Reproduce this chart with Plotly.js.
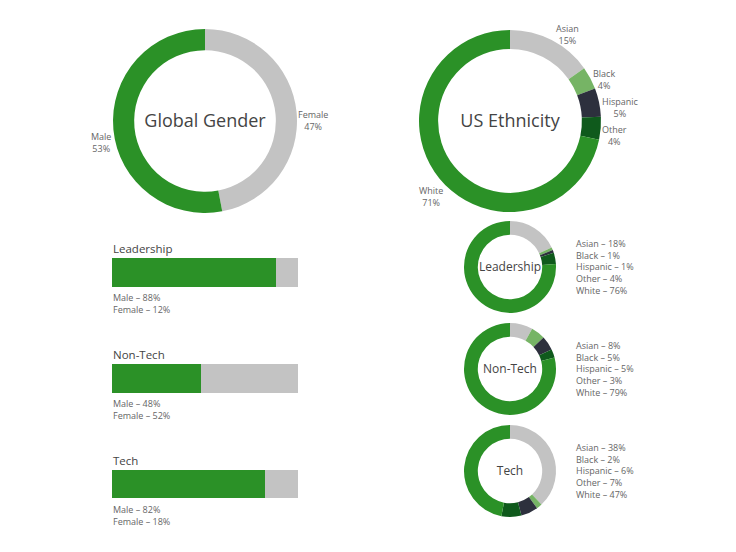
<!DOCTYPE html>
<html><head><meta charset="utf-8">
<script src="https://cdn.plot.ly/plotly-3.0.1.min.js"></script>
<style>html,body{margin:0;padding:0;background:#fff}#chart{width:736px;height:552px}</style>
</head><body><div id="chart"></div>
<script>
// ---- data ----
const genderLabels = ["Female", "Male"];
const genderValues = [47, 53];
const ethLabels = ["Asian", "Black", "Hispanic", "Other", "White"];
const ethValues = [15, 4, 5, 4, 71];
const groups = ["Leadership", "Non-Tech", "Tech"];
const maleShare = [88, 48, 82];
const femaleShare = [12, 52, 18];
const groupEth = {
  "Leadership": [18, 1, 1, 4, 76],
  "Non-Tech": [8, 5, 5, 3, 79],
  "Tech": [38, 2, 6, 7, 47]
};

// ---- styles ----
const GREEN = "#2b9127", GRAY = "#c3c3c3", LIGHTGREEN = "#76b465", NAVY = "#2d303d", DARKGREEN = "#0f5a1c";
const ethColors = [GRAY, LIGHTGREEN, NAVY, DARKGREEN, GREEN];
const FONT = "Open Sans, DejaVu Sans, sans-serif";
const W = 736, H = 552;
function dom(cx, cy, r) {
  return {x: [(cx - r) / W, (cx + r) / W], y: [1 - (cy + r) / H, 1 - (cy - r) / H]};
}

const traces = [];
traces.push({
  type: "pie", labels: genderLabels, values: genderValues, sort: false, direction: "clockwise", rotation: 0,
  hole: 0.77, marker: {colors: [GRAY, GREEN], line: {width: 0}}, textinfo: "none",
  domain: dom(205, 121, 92), showlegend: false,
  title: {text: "Global Gender", position: "middle center", font: {size: 18, color: "#444", family: FONT}}
});
traces.push({
  type: "pie", labels: ethLabels, values: ethValues, sort: false, direction: "clockwise", rotation: 0,
  hole: 0.79, marker: {colors: ethColors, line: {width: 0}}, textinfo: "none",
  domain: dom(510, 121, 91), showlegend: false,
  title: {text: "US Ethnicity", position: "middle center", font: {size: 18, color: "#444", family: FONT}}
});
const smallCy = [267, 369, 471];
groups.forEach((g, i) => {
  traces.push({
    type: "pie", labels: ethLabels, values: groupEth[g], sort: false, direction: "clockwise", rotation: 0,
    hole: 0.7, marker: {colors: ethColors, line: {width: 0}}, textinfo: "none",
    domain: dom(510, smallCy[i], 46), showlegend: false,
    title: {text: g, position: "middle center", font: {size: 12, color: "#444", family: FONT}}
  });
});
traces.push({type: "bar", orientation: "h", y: groups, x: maleShare, marker: {color: GREEN}, width: 0.27, hoverinfo: "none", showlegend: false});
traces.push({type: "bar", orientation: "h", y: groups, x: femaleShare, marker: {color: GRAY}, width: 0.27, hoverinfo: "none", showlegend: false});

const annotations = [];
const lab = {size: 9, color: "#666", family: FONT};
function pa(x, y, text, align) {
  annotations.push({xref: "paper", yref: "paper", x: x / W, y: 1 - y / H, text: text, showarrow: false,
    xanchor: "center", yanchor: "middle", align: align || "center", font: lab});
}
pa(101, 142, genderLabels[1] + "<br>" + genderValues[1] + "%");
pa(313, 121, genderLabels[0] + "<br>" + genderValues[0] + "%");
pa(567, 35, ethLabels[0] + "<br>" + ethValues[0] + "%");
pa(604, 80, ethLabels[1] + "<br>" + ethValues[1] + "%");
pa(620, 108, ethLabels[2] + "<br>" + ethValues[2] + "%");
pa(614, 135, ethLabels[3] + "<br>" + ethValues[3] + "%");
pa(431, 197, ethLabels[4] + "<br>" + ethValues[4] + "%");

groups.forEach((g, i) => {
  annotations.push({xref: "x", yref: "y", x: 0, y: g, text: g, showarrow: false, xanchor: "left", yanchor: "middle",
    yshift: 24, xshift: -1, font: {size: 11.5, color: "#444", family: FONT}});
  annotations.push({xref: "x", yref: "y", x: 0, y: g, text: "Male – " + maleShare[i] + "%<br>Female – " + femaleShare[i] + "%",
    showarrow: false, xanchor: "left", yanchor: "top", align: "left", yshift: -17, xshift: -1, font: lab});
  const lines = ethLabels.map((l, k) => l + " – " + groupEth[g][k] + "%").join("<br>");
  annotations.push({xref: "paper", yref: "paper", x: 574 / W, y: 1 - (smallCy[i] - 32) / H, text: lines, showarrow: false,
    xanchor: "left", yanchor: "top", align: "left", font: lab});
});

const layout = {
  width: W, height: H, margin: {l: 0, r: 0, t: 0, b: 0}, paper_bgcolor: "#fff", plot_bgcolor: "rgba(0,0,0,0)",
  barmode: "stack", font: {family: FONT},
  xaxis: {domain: [112 / W, 298 / W], range: [0, 100], visible: false, fixedrange: true},
  yaxis: {domain: [1 - 537 / H, 1 - 219.5 / H], type: "category", autorange: "reversed", visible: false, fixedrange: true},
  annotations: annotations
};
Plotly.newPlot("chart", traces, layout, {displayModeBar: false, staticPlot: true});
</script></body></html>
